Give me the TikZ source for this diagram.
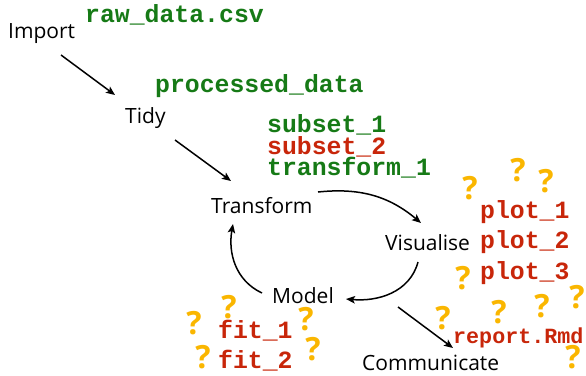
\documentclass[tikz,border=0pt]{standalone}
\usepackage{fontspec}
\setmainfont{Open Sans}
\newfontfamily\codefont{Liberation Mono}
\usetikzlibrary{arrows.meta}
\definecolor{codegreen}{RGB}{22,122,22}
\definecolor{codered}{RGB}{200,38,10}
\definecolor{qorange}{RGB}{250,182,0}
\begin{document}
\begin{tikzpicture}[x=1pt,y=-1pt,
  lbl/.style={anchor=base west,inner sep=0pt,font=\fontsize{21}{25}\selectfont},
  code/.style={anchor=base west,inner sep=0pt,font=\codefont\bfseries\fontsize{24.8}{21.5}\selectfont},
  smallcode/.style={anchor=base west,inner sep=0pt,font=\codefont\bfseries\fontsize{21.7}{21.5}\selectfont},
  good/.style={code,text=codegreen},
  bad/.style={code,text=codered},
  qm/.style={inner sep=0pt,text=qorange,font=\rmfamily\bfseries\fontsize{32}{32}\selectfont},
  arr/.style={line width=1.5pt,-{Stealth[length=9pt,width=7.5pt,inset=2pt]}}]
\useasboundingbox (0,0) rectangle (586,375);
% stage labels
\node[lbl] (import) at (8,38) {Import};
\node[lbl] (tidy) at (125,123) {Tidy};
\node[lbl] (transform) at (211,213) {Transform};
\node[lbl] (visualise) at (385,250) {Visualise};
\node[lbl] (model) at (272,303) {Model};
\node[lbl] (communicate) at (362,370) {Communicate};
% code objects
\node[good] (raw) at (85,22) {raw\_data.csv};
\node[good] (processed) at (155,92) {processed\_data};
\node[good] (subseta) at (267,132) {subset\_1};
\node[bad] (subsetb) at (267,154) {subset\_2};
\node[good] (transformo) at (267,175) {transform\_1};
\node[bad] (plota) at (480,218) {plot\_1};
\node[bad] (plotb) at (480,248) {plot\_2};
\node[bad] (plotc) at (480,279) {plot\_3};
\node[bad] (fita) at (218,338) {fit\_1};
\node[bad] (fitb) at (218,368) {fit\_2};
\node[smallcode,text=codered] (report) at (453,343) {report.Rmd};
% question marks
\node[qm] (q1) at (470,188) {?};
\node[qm] (q2) at (518,170) {?};
\node[qm] (q3) at (546,181) {?};
\node[qm] (q4) at (463,278) {?};
\node[qm] (q5) at (443,318) {?};
\node[qm] (q6) at (499,312) {?};
\node[qm] (q7) at (542,306) {?};
\node[qm] (q8) at (577,297) {?};
\node[qm] (q9) at (573,357) {?};
\node[qm] (q10) at (229,307) {?};
\node[qm] (q11) at (194,323) {?};
\node[qm] (q12) at (306,319) {?};
\node[qm] (q13) at (313,349) {?};
\node[qm] (q14) at (203,357) {?};
% connector end points
\coordinate (impS) at (61,55);
\coordinate (tidyE) at (115,95);
\coordinate (tidyS) at (175,140);
\coordinate (trE) at (231,181);
\coordinate (trS) at (318,192);
\coordinate (visE) at (421,223);
\coordinate (visS) at (418,262);
\coordinate (modE) at (346,299);
\coordinate (modS) at (262,293);
\coordinate (trE2) at (233,224);
\coordinate (modS2) at (398,307);
\coordinate (comE) at (453,348);
% connectors
\draw[arr] (impS) -- (tidyE);
\draw[arr] (tidyS) -- (trE);
\draw[arr] (trS) to[out=6,in=140] (visE);
\draw[arr] (visS) to[out=-105,in=-5] (modE);
\draw[arr] (modS) to[out=155,in=-100] (trE2);
\draw[arr] (modS2) -- (comE);
\end{tikzpicture}
\end{document}
